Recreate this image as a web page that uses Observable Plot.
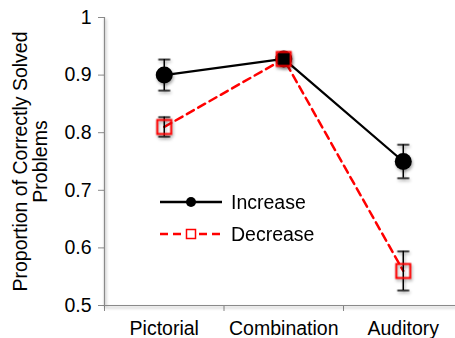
<!DOCTYPE html>
<html>
<head>
<meta charset="utf-8">
<script src="https://cdn.jsdelivr.net/npm/d3@7"></script>
<script src="https://cdn.jsdelivr.net/npm/@observablehq/plot@0.6"></script>
<style>
  html, body { margin: 0; padding: 0; background: white; }
  #wrap { position: relative; width: 455px; height: 338px; font-family: "Liberation Sans", Arial, sans-serif; }
  #legend { position: absolute; left: 0; top: 0; pointer-events: none; }
  g[aria-label="dot"], g[aria-label="rule"] { filter: drop-shadow(1px 2px 1.5px rgba(0,0,0,0.35)); }
</style>
</head>
<body>
<div id="wrap"></div>
<script>
const categories = ["Pictorial", "Combination", "Auditory"];
const seriesNames = ["Increase", "Decrease"];
const increaseValues = [0.90, 0.928, 0.75];
const increaseErrors = [0.027, 0.006, 0.029];
const decreaseValues = [0.81, 0.928, 0.56];
const decreaseErrors = [0.017, 0.006, 0.034];
const yTicks = [0.5, 0.6, 0.7, 0.8, 0.9, 1];
const yTitle = "Proportion of Correctly Solved\nProblems";

const incData = categories.map((c, i) => ({i, c, v: increaseValues[i], e: increaseErrors[i]}));
const decData = categories.map((c, i) => ({i, c, v: decreaseValues[i], e: decreaseErrors[i]}));
const allData = incData.concat(decData);
const boundaries = categories.map((c, i) => i - 0.5).concat([categories.length - 0.5]);

const FONT = 19.5;
const RED = "#ff0000";

const capSymbol = {
  draw(ctx, size) {
    const w = Math.sqrt(size / Math.PI);
    ctx.moveTo(-w, 0);
    ctx.lineTo(w, 0);
  }
};

const chart = Plot.plot({
  width: 455,
  height: 338,
  marginLeft: 104,
  marginRight: 0,
  marginTop: 17,
  marginBottom: 33,
  x: {domain: [-0.5, 2.437]},
  y: {domain: [0.5, 1]},
  style: {fontFamily: "Liberation Sans, Arial, sans-serif", background: "white", color: "black"},
  marks: [
    Plot.axisY({ticks: yTicks, tickSize: 6, tickPadding: 7, stroke: "#8a8a8a", fontSize: FONT, tickFormat: d => String(d), label: null}),
    Plot.axisX({ticks: boundaries, tickSize: 6, stroke: "#8a8a8a", tickFormat: () => "", label: null}),
    Plot.axisX({ticks: categories.map((c, i) => i), tickSize: 0, tickPadding: 15.5, fontSize: FONT, tickFormat: i => categories[i], label: null}),
    Plot.ruleX([-0.5], {stroke: "#8a8a8a", strokeWidth: 1.2}),
    Plot.ruleY([0.5], {stroke: "#8a8a8a", strokeWidth: 1.2}),
    Plot.text([yTitle], {frameAnchor: "left", dx: -74, rotate: -90, textAnchor: "middle", lineAnchor: "middle", fontSize: FONT, lineHeight: 1.05, fill: "black"}),
    Plot.line(incData, {x: "i", y: "v", stroke: "black", strokeWidth: 2.3}),
    Plot.line(decData, {x: "i", y: "v", stroke: RED, strokeWidth: 2.5, strokeDasharray: "8,5"}),
    Plot.ruleX(allData, {x: "i", y1: d => d.v - d.e, y2: d => d.v + d.e, stroke: "black", strokeWidth: 1.5}),
    Plot.dot(allData, {x: "i", y: d => d.v + d.e, symbol: capSymbol, r: 6, stroke: "black", fill: "none", strokeWidth: 1.5}),
    Plot.dot(allData, {x: "i", y: d => d.v - d.e, symbol: capSymbol, r: 6, stroke: "black", fill: "none", strokeWidth: 1.5}),
    Plot.dot(incData, {x: "i", y: "v", r: 8.5, fill: "black", stroke: "none"}),
    Plot.dot(decData, {x: "i", y: "v", symbol: "square", r: 7.9, stroke: RED, strokeWidth: 2, fill: "none"})
  ]
});

const wrap = document.getElementById("wrap");
wrap.appendChild(chart);

// legend overlay
const leg = d3.select(wrap).append("svg").attr("id", "legend").attr("width", 455).attr("height", 338);
const rows = [
  {name: seriesNames[0], y: 202, stroke: "black", dash: null, sw: 2.3, sym: "circle"},
  {name: seriesNames[1], y: 234, stroke: RED, dash: "8,5", sw: 2.5, sym: "square"}
];
rows.forEach(r => {
  leg.append("line").attr("x1", 160).attr("x2", 222).attr("y1", r.y).attr("y2", r.y)
    .attr("stroke", r.stroke).attr("stroke-width", r.sw).attr("stroke-dasharray", r.dash);
  if (r.sym === "circle") {
    leg.append("circle").attr("cx", 191).attr("cy", r.y).attr("r", 5).attr("fill", "black");
  } else {
    leg.append("rect").attr("x", 186.5).attr("y", r.y - 4.5).attr("width", 9).attr("height", 9)
      .attr("fill", "white").attr("stroke", RED).attr("stroke-width", 1.5);
  }
  leg.append("text").attr("x", 231).attr("y", r.y + 7).attr("font-size", FONT)
    .attr("font-family", "Liberation Sans, Arial, sans-serif").attr("fill", "black").text(r.name);
});
</script>
</body>
</html>
